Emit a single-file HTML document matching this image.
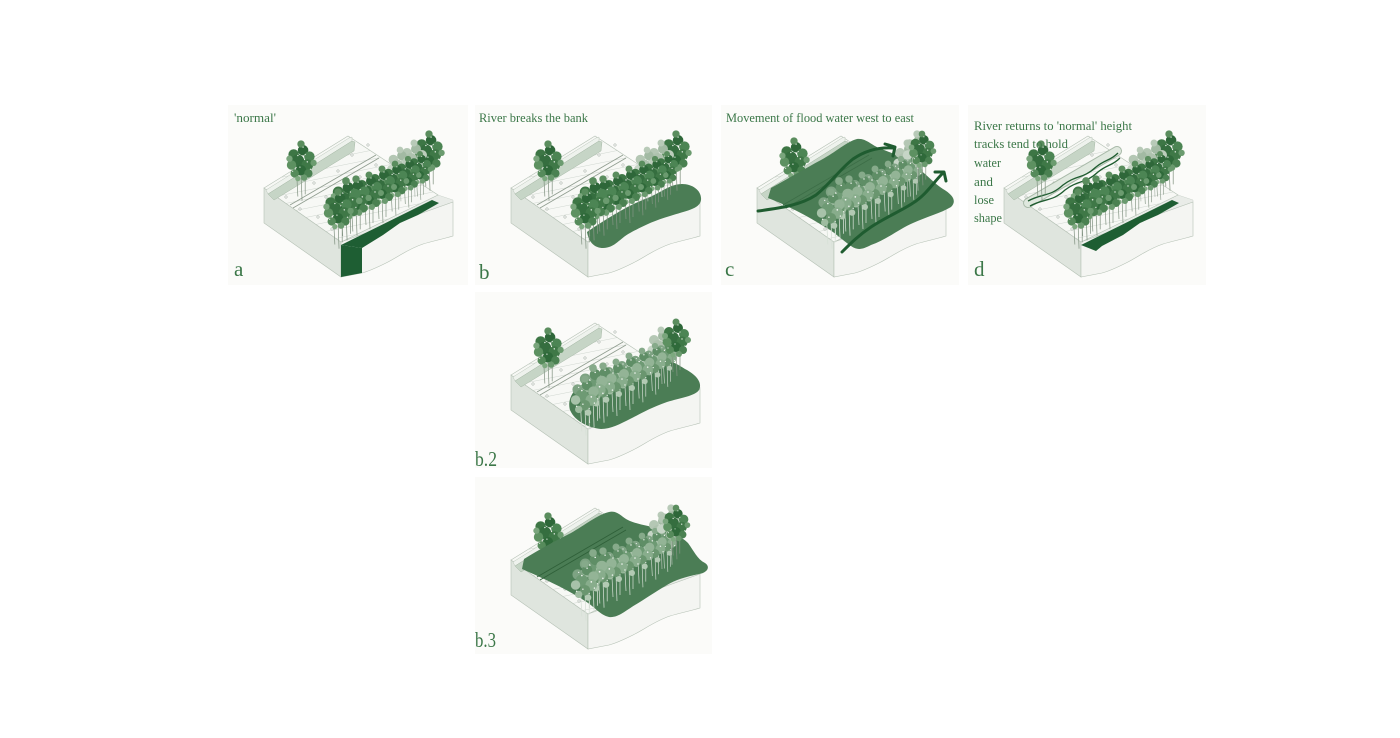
<!DOCTYPE html>
<html><head><meta charset="utf-8"><style>
html,body{margin:0;padding:0;background:#fff;}
svg{display:block;}
text{font-family:"Liberation Serif","DejaVu Serif",serif;fill:#3b7748;}
</style></head><body>
<svg width="1400" height="738" viewBox="0 0 1400 738" xmlns="http://www.w3.org/2000/svg">
<defs>
<clipPath id="topclip"><polygon points="36,83 120,31 210,90 113,137"/></clipPath>
<g id="blk">
  <polygon points="36,83 113,137 113,172 36,118" fill="#dfe5de" stroke="#b5c1b5" stroke-width="0.6"/>
  <polygon points="113,137 210,90 225,95 225,97" fill="#e9ece8" stroke="#c2cac2" stroke-width="0.4"/>
  <path d="M113,137 L225,97 L225,131 C215,134 205,136 195,139 C180,144 170,152 158,158 C150,162 142,166 134,168 L113,172 Z" fill="#f4f5f2" stroke="#b5c1b5" stroke-width="0.6"/>
  <polygon points="36,83 120,31 210,90 113,137" fill="#f7f8f5" stroke="#b5c1b5" stroke-width="0.6"/>
  <g clip-path="url(#topclip)" stroke="#cfd6cf" stroke-width="0.5">
    <line x1="30" y1="95" x2="230" y2="55"/>
    <line x1="30" y1="104" x2="230" y2="64"/>
    <line x1="30" y1="113" x2="230" y2="73"/>
    <line x1="30" y1="122" x2="230" y2="82"/>
    <line x1="30" y1="131" x2="230" y2="91"/>
    <line x1="30" y1="140" x2="230" y2="100"/>
    <line x1="30" y1="86" x2="230" y2="46"/>
    <line x1="30" y1="77" x2="230" y2="37"/>
    <line x1="30" y1="68" x2="230" y2="28"/>
    <line x1="30" y1="149" x2="230" y2="109"/>
  </g>
  <g fill="#fff" stroke="#8e9a8e" stroke-width="0.5">
    <circle cx="58" cy="92" r="1.2"/><circle cx="72" cy="104" r="1.2"/><circle cx="86" cy="78" r="1.2"/>
    <circle cx="98" cy="92" r="1.2"/><circle cx="110" cy="66" r="1.2"/><circle cx="124" cy="50" r="1.2"/>
    <circle cx="132" cy="72" r="1.2"/><circle cx="148" cy="60" r="1.2"/><circle cx="90" cy="112" r="1.2"/>
    <circle cx="104" cy="124" r="1.2"/><circle cx="118" cy="40" r="1.2"/><circle cx="160" cy="70" r="1.2"/>
    <circle cx="140" cy="40" r="1.2"/><circle cx="78" cy="66" r="1.2"/>
  </g>
  <polygon points="38,85 121,33 124,32 124,36 40,89" fill="#eef2ed" stroke="#aebdae" stroke-width="0.4"/>
  <polygon points="40,89 124,36 127,37 126,46 46,95" fill="#c6d5c6" stroke="#a6b8a6" stroke-width="0.5"/>
</g>
<g id="track">
  <line x1="62" y1="100" x2="148" y2="50" stroke="#8f9c8f" stroke-width="0.8"/>
  <line x1="65" y1="103" x2="151" y2="53" stroke="#8f9c8f" stroke-width="0.8"/>
</g>
<g id="t">
  <path d="M0,8 L1,34 M-4,10 L-3,30 M4,9 L4,28" stroke="#849584" stroke-width="0.7" fill="none"/>
  <circle cx="-7" cy="-10" r="5" fill="#3d7645"/>
  <circle cx="2" cy="-14" r="5" fill="#2e6739"/>
  <circle cx="8" cy="-8" r="5" fill="#4c8554"/>
  <circle cx="-3" cy="-4" r="6" fill="#356e3f"/>
  <circle cx="6" cy="0" r="5.5" fill="#3f7847"/>
  <circle cx="-9" cy="0" r="4.5" fill="#5d9161"/>
  <circle cx="0" cy="5" r="5" fill="#2f6a3a"/>
  <circle cx="-6" cy="8" r="4" fill="#568b5b"/>
  <circle cx="7" cy="8" r="4" fill="#4a8151"/>
  <circle cx="0" cy="-20" r="3.5" fill="#5a8d5e"/>
  <circle cx="-11" cy="-6" r="3" fill="#79a57c"/>
  <circle cx="12" cy="-2" r="3" fill="#6b9b6f"/>
  <circle cx="3" cy="12" r="3" fill="#6a9a6e"/>
  <circle cx="-3" cy="13" r="2.5" fill="#7da97f"/>
  <g fill="#e3ece3"><circle cx="-3" cy="-9" r="0.7"/><circle cx="6" cy="-3" r="0.7"/><circle cx="-8" cy="6" r="0.6"/><circle cx="2" cy="-17" r="0.6"/><circle cx="9" cy="4" r="0.6"/><circle cx="-1" cy="2" r="0.6"/><circle cx="4" cy="-10" r="0.6"/></g>
</g>
<g id="tl">
  <path d="M0,8 L1,34" stroke="#aebaae" stroke-width="0.7" fill="none"/>
  <circle cx="-7" cy="-10" r="5" fill="#b4c7b4"/>
  <circle cx="2" cy="-14" r="5" fill="#a2baa3"/>
  <circle cx="8" cy="-8" r="5" fill="#bccdbc"/>
  <circle cx="-3" cy="-4" r="6" fill="#aec2ae"/>
  <circle cx="6" cy="0" r="5.5" fill="#c2d2c2"/>
  <circle cx="-9" cy="0" r="4.5" fill="#c6d5c6"/>
  <circle cx="0" cy="5" r="5" fill="#b0c4b0"/>
  <circle cx="0" cy="-20" r="3.5" fill="#b8cab8"/>
</g>
<g id="tp">
  <path d="M0,8 L1,34 M-4,10 L-3,30 M4,9 L4,28" stroke="#d6e0d6" stroke-width="0.7" fill="none"/>
  <circle cx="-7" cy="-10" r="5" fill="#7ea383"/>
  <circle cx="2" cy="-14" r="5" fill="#5f8e66"/>
  <circle cx="8" cy="-8" r="5" fill="#93b496"/>
  <circle cx="-3" cy="-4" r="6" fill="#6e9a74"/>
  <circle cx="6" cy="0" r="5.5" fill="#88ad8c"/>
  <circle cx="-9" cy="0" r="4.5" fill="#a7c2a9"/>
  <circle cx="0" cy="5" r="5" fill="#6a966f"/>
  <circle cx="0" cy="-20" r="3.5" fill="#86aa8a"/>
  <circle cx="3" cy="12" r="3" fill="#b2cab3"/>
  <circle cx="-6" cy="9" r="3.5" fill="#9ebca0"/>
  <g fill="#f2f6f2"><circle cx="-3" cy="-9" r="0.8"/><circle cx="6" cy="-3" r="0.8"/><circle cx="-8" cy="6" r="0.7"/><circle cx="2" cy="-16" r="0.7"/><circle cx="9" cy="3" r="0.7"/><circle cx="-2" cy="4" r="0.7"/><circle cx="4" cy="8" r="0.6"/><circle cx="-6" cy="-12" r="0.6"/></g>
</g>
<g id="rowD">
  <use href="#tl" transform="translate(186,58)"/>
  <use href="#tl" transform="translate(172,64) scale(0.95)"/>
  <use href="#t" transform="translate(192,66) scale(0.85)"/>
  <use href="#t" transform="translate(180,72) scale(0.9)"/>
  <use href="#t" transform="translate(167,78) scale(0.95)"/>
  <use href="#t" transform="translate(154,84)"/>
  <use href="#t" transform="translate(141,90)"/>
  <use href="#t" transform="translate(128,95) scale(1.05)"/>
  <use href="#t" transform="translate(118,98) scale(1.1)"/>
  <use href="#t" transform="translate(110,108) scale(1.05)"/>
</g>
<g id="rowP">
  <use href="#tl" transform="translate(186,58)"/>
  <use href="#tp" transform="translate(192,66) scale(0.85)"/>
  <use href="#tp" transform="translate(180,72) scale(0.9)"/>
  <use href="#tp" transform="translate(167,78) scale(0.95)"/>
  <use href="#tp" transform="translate(154,84)"/>
  <use href="#tp" transform="translate(141,90)"/>
  <use href="#tp" transform="translate(128,95) scale(1.05)"/>
  <use href="#tp" transform="translate(118,98) scale(1.1)"/>
  <use href="#tp" transform="translate(110,108) scale(1.05)"/>
</g>
<g id="side">
  <use href="#t" transform="translate(73,60) scale(1.05)"/>
  <use href="#t" transform="translate(201,50) scale(1.05)"/>
</g>
</defs>

<!-- panel backgrounds -->
<g fill="#fbfbf9">
  <rect x="228" y="105" width="240" height="180"/>
  <rect x="475" y="105" width="237" height="180"/>
  <rect x="721" y="105" width="238" height="180"/>
  <rect x="968" y="105" width="238" height="180"/>
  <rect x="475" y="292" width="237" height="176"/>
  <rect x="475" y="477" width="237" height="177"/>
</g>

<!-- Panel a -->
<g transform="translate(228,105)">
  <use href="#blk"/>
  <use href="#track"/>
  <polygon points="113,140 204,95 211,98 190,110 172,118 155,130 134,143" fill="#1e5e33"/>
  <polygon points="113,140 134,143 134,168 113,172" fill="#1e5e33"/>
  <use href="#side"/>
  <use href="#rowD"/>
</g>
<text x="234" y="122" font-size="13" textLength="42" lengthAdjust="spacingAndGlyphs">'normal'</text>
<text x="234" y="276" font-size="21">a</text>

<!-- Panel b -->
<g transform="translate(475,105)">
  <use href="#blk"/>
  <use href="#track"/>
  <path d="M112,127 C125,118 135,112 142,108 C155,100 165,96 175,92 C188,86 196,79 207,79 C218,79 227,86 226,95 C225,104 210,106 195,111 C178,116 168,121 155,128 C145,133 140,143 128,143 C120,143 114,138 112,127 Z" fill="#4b7d55"/>
  <use href="#side"/>
  <use href="#rowD"/>
</g>
<text x="479" y="122" font-size="13" textLength="109" lengthAdjust="spacingAndGlyphs">River breaks the bank</text>
<text x="479" y="279" font-size="21">b</text>

<!-- Panel c -->
<g transform="translate(721,105)">
  <use href="#blk"/>
  <use href="#track"/>
  <use href="#t" transform="translate(73,57) scale(1.05)"/>
  <path d="M47,93 L50,83 C70,72 85,63 100,55 C115,47 125,37 136,34 C145,33 150,40 160,44 C172,48 180,52 192,60 C205,68 210,76 222,84 C232,90 236,96 230,102 C220,108 205,112 192,118 C178,124 165,135 150,140 C142,144 137,146 130,141 C120,134 112,126 104,122 C85,110 65,100 47,93 Z" fill="#4b7d55"/>
  <path d="M62,100 L148,50 M65,103 L151,53" stroke="#3d6e47" stroke-width="0.8"/>
  <use href="#rowP"/>
  <use href="#tl" transform="translate(196,50) scale(1.05)"/>
  <use href="#t" transform="translate(201,48) scale(0.95)"/>
  <path d="M37,106 C60,103 80,100 95,90 C110,78 118,65 132,54 C145,45 158,42 172,43" fill="none" stroke="#1f5c30" stroke-width="3" stroke-linecap="round"/>
  <path d="M164,39 L174,42 L172,51" fill="none" stroke="#1f5c30" stroke-width="3" stroke-linecap="round" stroke-linejoin="round"/>
  <path d="M121,147 C130,138 138,130 150,122 C165,112 180,106 192,98 C205,90 212,78 221,69" fill="none" stroke="#1f5c30" stroke-width="3" stroke-linecap="round"/>
  <path d="M214,67 L223,67 L225,76" fill="none" stroke="#1f5c30" stroke-width="3" stroke-linecap="round" stroke-linejoin="round"/>
</g>
<text x="726" y="122" font-size="13" textLength="188" lengthAdjust="spacingAndGlyphs">Movement of flood water west to east</text>
<text x="725" y="276" font-size="21">c</text>

<!-- Panel d -->
<g transform="translate(968,105)">
  <use href="#blk"/>
  <path d="M60,98 L149,46" stroke="#a9baa9" stroke-width="10" stroke-linecap="round"/>
  <path d="M60,98 L149,46" stroke="#dfe8de" stroke-width="8" stroke-linecap="round"/>
  <path d="M60,96 C75,88 82,92 95,80 C108,70 115,74 128,62 C138,54 142,56 150,48" fill="none" stroke="#1f5c30" stroke-width="1.3"/>
  <path d="M62,101 C77,93 84,97 97,85 C110,75 117,79 130,67 C140,59 144,61 152,53" fill="none" stroke="#1f5c30" stroke-width="1.3"/>
  <polygon points="113,140 204,95 211,98 190,110 172,118 155,130 134,141 128,146" fill="#1e5e33"/>
  <use href="#side"/>
  <use href="#rowD"/>
</g>
<text x="974" y="130" font-size="13" textLength="158" lengthAdjust="spacingAndGlyphs">River returns to 'normal' height</text>
<text x="974" y="148" font-size="13" textLength="94" lengthAdjust="spacingAndGlyphs">tracks tend to hold</text>
<text x="974" y="167" font-size="13" textLength="27" lengthAdjust="spacingAndGlyphs">water</text>
<text x="974" y="186" font-size="13" textLength="19" lengthAdjust="spacingAndGlyphs">and</text>
<text x="974" y="204" font-size="13" textLength="20" lengthAdjust="spacingAndGlyphs">lose</text>
<text x="974" y="222" font-size="13" textLength="28" lengthAdjust="spacingAndGlyphs">shape</text>
<text x="974" y="276" font-size="21">d</text>

<!-- Panel b.2 -->
<g transform="translate(475,292)">
  <use href="#blk"/>
  <use href="#track"/>
  <path d="M95,118 C92,108 98,97 108,92 C120,86 130,82 140,79 C155,75 170,70 182,68 C195,67 202,72 210,77 C220,82 228,90 224,98 C220,104 205,106 192,110 C175,116 165,122 155,127 C145,132 136,137 126,137 C115,136 100,130 95,118 Z" fill="#4b7d55"/>
  <use href="#t" transform="translate(73,60) scale(1.05)"/>
  <use href="#rowP"/>
  <use href="#t" transform="translate(201,50) scale(1.0)"/>
</g>
<text x="475" y="466" font-size="21" textLength="22" lengthAdjust="spacingAndGlyphs">b.2</text>

<!-- Panel b.3 -->
<g transform="translate(475,477)">
  <use href="#blk"/>
  <use href="#t" transform="translate(73,60) scale(1.05)"/>
  <path d="M47,92 L49,82 C65,72 80,64 96,56 C110,48 122,38 134,35 C143,33 147,41 155,44 C165,48 175,49 185,52 C197,56 206,59 213,66 C219,74 222,82 230,86 C236,90 232,96 224,97 C210,100 200,103 192,108 C180,115 170,122 160,128 C150,134 143,141 134,140 C125,138 120,130 110,124 C95,114 70,102 47,92 Z" fill="#4b7d55"/>
  <path d="M62,100 L148,50 M65,103 L151,53" stroke="#2f6039" stroke-width="0.9"/>
  <use href="#rowP"/>
  <use href="#tl" transform="translate(196,52) scale(1.05)"/>
  <use href="#t" transform="translate(201,50) scale(0.95)"/>
</g>
<text x="475" y="647" font-size="21" textLength="21" lengthAdjust="spacingAndGlyphs">b.3</text>
</svg>
</body></html>
